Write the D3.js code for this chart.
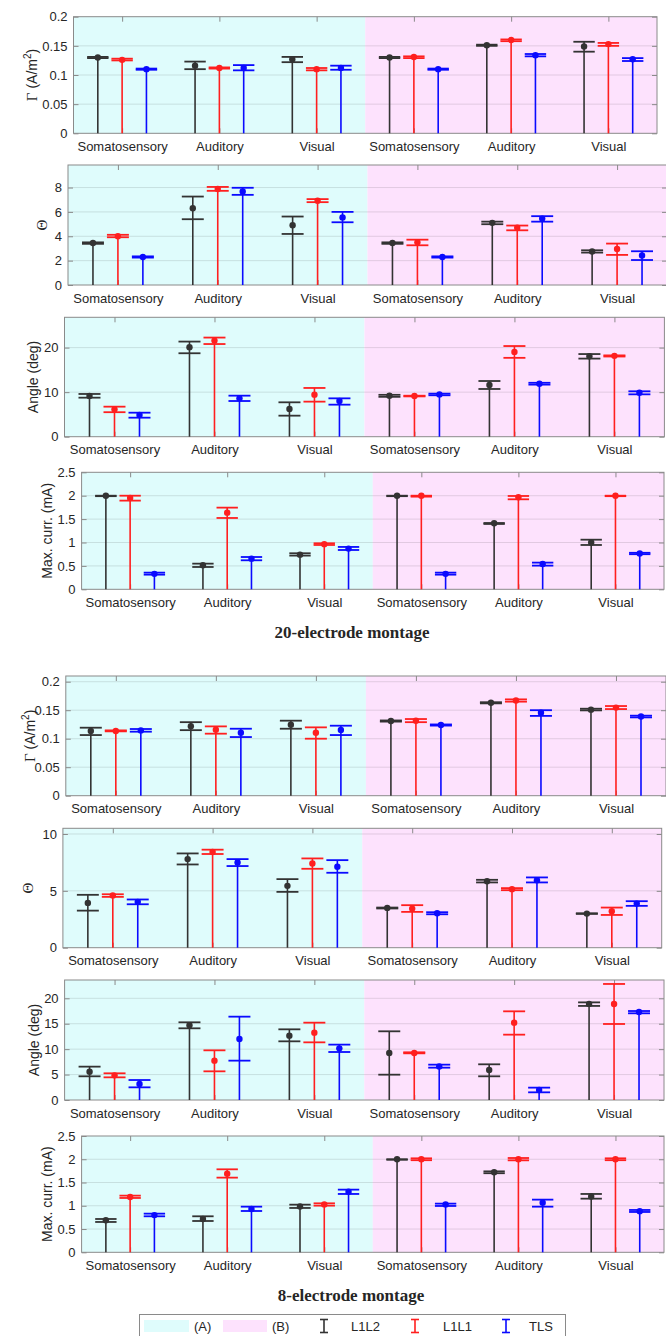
<!DOCTYPE html>
<html><head><meta charset="utf-8">
<script src="https://cdn.jsdelivr.net/npm/d3@7"></script>
<style>
html,body{margin:0;padding:0;background:#fff;}
svg{display:block;}
text{font-family:"Liberation Sans",Arial,Helvetica,sans-serif;fill:#262626;}
</style></head>
<body>
<svg id="chart" width="666" height="1336"></svg>
<script>
// ---------- DATA ----------
const categories = ["Somatosensory","Auditory","Visual","Somatosensory","Auditory","Visual"];
const seriesNames = ["L1L2","L1L1","TLS"];
const conditions = ["(A)","(B)"];
// each entry: [lower, upper, mean]
// 20-electrode montage
const gamma20_L1L2 = [[0.129,0.131,0.130],[0.110,0.123,0.116],[0.122,0.131,0.127],[0.129,0.131,0.130],[0.150,0.152,0.151],[0.140,0.157,0.149]];
const gamma20_L1L1 = [[0.125,0.128,0.126],[0.111,0.113,0.112],[0.108,0.112,0.110],[0.129,0.132,0.131],[0.158,0.161,0.160],[0.150,0.155,0.153]];
const gamma20_TLS  = [[0.109,0.111,0.110],[0.108,0.117,0.112],[0.109,0.116,0.112],[0.109,0.111,0.110],[0.132,0.136,0.134],[0.124,0.129,0.127]];
const theta20_L1L2 = [[3.38,3.50,3.45],[5.40,7.26,6.30],[4.19,5.62,4.90],[3.38,3.50,3.45],[4.99,5.20,5.10],[2.66,2.85,2.75]];
const theta20_L1L1 = [[3.92,4.12,4.00],[7.73,8.05,7.88],[6.80,7.05,6.92],[3.26,3.72,3.50],[4.49,4.88,4.70],[2.47,3.40,2.95]];
const theta20_TLS  = [[2.25,2.35,2.30],[7.40,7.98,7.67],[5.15,6.00,5.55],[2.25,2.35,2.30],[5.20,5.65,5.45],[2.05,2.77,2.42]];
const angle20_L1L2 = [[8.76,9.59,9.14],[18.73,21.35,20.07],[4.72,7.72,6.22],[8.95,9.40,9.20],[10.71,12.50,11.61],[17.53,18.55,18.05]];
const angle20_L1L1 = [[5.50,6.74,6.14],[20.80,22.25,21.57],[7.87,10.94,9.44],[9.05,9.20,9.14],[17.70,20.35,19.03],[18.00,18.25,18.15]];
const angle20_TLS  = [[4.27,5.39,4.87],[8.01,9.21,8.61],[7.19,8.61,8.01],[9.30,9.66,9.50],[11.69,12.10,11.90],[9.51,10.19,9.85]];
const curr20_L1L2  = [[1.99,2.00,2.00],[0.477,0.548,0.513],[0.72,0.77,0.74],[1.99,2.00,2.00],[1.396,1.417,1.41],[0.947,1.06,1.00]];
const curr20_L1L1  = [[1.895,2.00,1.95],[1.524,1.745,1.638],[0.947,0.983,0.965],[1.98,2.00,2.00],[1.923,1.994,1.966],[1.99,2.00,2.00]];
const curr20_TLS   = [[0.313,0.356,0.33],[0.62,0.69,0.655],[0.84,0.905,0.87],[0.313,0.356,0.33],[0.506,0.57,0.54],[0.75,0.78,0.765]];
// 8-electrode montage
const gamma8_L1L2 = [[0.1064,0.1193,0.1135],[0.115,0.129,0.122],[0.1175,0.1316,0.1246],[0.130,0.132,0.131],[0.162,0.164,0.163],[0.1497,0.1526,0.151]];
const gamma8_L1L1 = [[0.1129,0.1146,0.1135],[0.1088,0.1216,0.1158],[0.100,0.1199,0.1105],[0.129,0.1345,0.1316],[0.165,0.169,0.167],[0.152,0.1573,0.1546]];
const gamma8_TLS  = [[0.1123,0.117,0.1146],[0.1029,0.1175,0.1105],[0.1064,0.1228,0.1152],[0.123,0.125,0.124],[0.140,0.150,0.1456],[0.1374,0.1404,0.139]];
const theta8_L1L2 = [[3.26,4.65,3.94],[7.32,8.29,7.79],[4.91,6.03,5.44],[3.45,3.53,3.50],[5.74,5.97,5.85],[2.97,3.03,3.00]];
const theta8_L1L1 = [[4.47,4.70,4.60],[8.24,8.62,8.41],[6.94,7.85,7.41],[3.15,3.74,3.44],[5.06,5.24,5.15],[2.88,3.53,3.20]];
const theta8_TLS  = [[3.82,4.24,4.03],[7.18,7.79,7.50],[6.59,7.70,7.12],[2.94,3.12,3.03],[5.74,6.18,5.94],[3.68,4.09,3.88]];
const angle8_L1L2 = [[4.66,6.56,5.57],[14.10,15.28,14.69],[11.54,13.90,12.66],[4.98,13.51,9.25],[4.66,7.02,5.90],[18.50,19.20,18.90]];
const angle8_L1L1 = [[4.46,5.25,4.85],[5.64,9.77,7.74],[11.34,15.21,13.25],[9.18,9.38,9.25],[12.85,17.44,15.21],[14.95,22.82,18.89]];
const angle8_TLS  = [[2.49,3.93,3.15],[7.74,16.39,12.00],[9.44,10.89,10.16],[6.36,6.95,6.60],[1.51,2.43,1.97],[17.05,17.50,17.30]];
const curr8_L1L2  = [[0.652,0.716,0.688],[0.673,0.774,0.716],[0.953,1.024,0.985],[1.99,2.00,2.00],[1.70,1.74,1.72],[1.153,1.254,1.20]];
const curr8_L1L1  = [[1.168,1.218,1.19],[1.605,1.784,1.69],[1.003,1.053,1.03],[1.98,2.02,2.00],[1.977,2.027,2.00],[1.98,2.02,2.00]];
const curr8_TLS   = [[0.774,0.831,0.80],[0.888,0.981,0.931],[1.254,1.347,1.30],[0.996,1.046,1.03],[0.981,1.132,1.067],[0.867,0.91,0.885]];
// tick values
const ticksGamma = [0,0.05,0.1,0.15,0.2];
const ticksTheta20 = [0,2,4,6,8];
const ticksAngle20 = [0,10,20];
const ticksCurr = [0,0.5,1,1.5,2,2.5];
const ticksTheta8 = [0,5,10];
const ticksAngle8 = [0,5,10,15,20];
const titles = ["20-electrode montage","8-electrode montage"];

// ---------- STYLE / LAYOUT ----------
const colors = ["#333333","#ff1f1f","#0a0aff"];
const bgA = "#dffcfc", bgB = "#fde2fd";
const layout = [
  {l:73.5,r:657,t:16.7,b:133.3,ymax:0.2,ticks:ticksGamma,lab:"gamma",lx:32,data:[gamma20_L1L2,gamma20_L1L1,gamma20_TLS]},
  {l:68,r:667,t:165,b:285,ymax:9.85,ticks:ticksTheta20,lab:"theta",lx:42,data:[theta20_L1L2,theta20_L1L1,theta20_TLS]},
  {l:64.5,r:664.4,t:317.3,b:436.7,ymax:26.8,ticks:ticksAngle20,lab:"Angle (deg)",lx:33,data:[angle20_L1L2,angle20_L1L1,angle20_TLS]},
  {l:81.6,r:664,t:472.3,b:589.3,ymax:2.5,ticks:ticksCurr,lab:"Max. curr. (mA)",lx:46.7,data:[curr20_L1L2,curr20_L1L1,curr20_TLS]},
  {l:65.8,r:666,t:676,b:795.7,ymax:0.21,ticks:ticksGamma,lab:"gamma",lx:30,data:[gamma8_L1L2,gamma8_L1L1,gamma8_TLS]},
  {l:62.9,r:661.7,t:828.3,b:947.7,ymax:10.5,ticks:ticksTheta8,lab:"theta",lx:27.6,data:[theta8_L1L2,theta8_L1L1,theta8_TLS]},
  {l:64.6,r:664,t:980,b:1100,ymax:23.6,ticks:ticksAngle8,lab:"Angle (deg)",lx:34,data:[angle8_L1L2,angle8_L1L1,angle8_TLS]},
  {l:81.6,r:664,t:1136,b:1252.3,ymax:2.5,ticks:ticksCurr,lab:"Max. curr. (mA)",lx:46.7,data:[curr8_L1L2,curr8_L1L1,curr8_TLS]}
];
const offsets = [-0.25,0,0.25];
const capHalf = 0.11;

const svg = d3.select("#chart");

layout.forEach(p => {
  const x = d3.scaleLinear().domain([0.5,6.5]).range([p.l,p.r]);
  const y = d3.scaleLinear().domain([0,p.ymax]).range([p.b,p.t]);
  const g = svg.append("g");
  // backgrounds
  g.append("rect").attr("x",x(0.5)).attr("y",p.t).attr("width",x(3.5)-x(0.5)).attr("height",p.b-p.t).attr("fill",bgA);
  g.append("rect").attr("x",x(3.5)).attr("y",p.t).attr("width",x(6.5)-x(3.5)).attr("height",p.b-p.t).attr("fill",bgB);
  // grid
  g.selectAll(".grid").data(p.ticks.filter(v=>v>0 && v<p.ymax)).enter().append("line")
    .attr("x1",p.l).attr("x2",p.r).attr("y1",d=>y(d)).attr("y2",d=>y(d))
    .attr("stroke","#262626").attr("stroke-opacity",0.13).attr("stroke-width",1);
  // axes
  const fmt = d => String(d);
  const ax = g.append("g").attr("transform",`translate(${p.l},0)`)
    .call(d3.axisLeft(y).tickValues(p.ticks).tickFormat(fmt).tickSize(-5).tickPadding(6));
  const axR = g.append("g").attr("transform",`translate(${p.r},0)`)
    .call(d3.axisRight(y).tickValues(p.ticks).tickFormat("").tickSize(-5));
  const gx = d3.range(1,7);
  const axB = g.append("g").attr("transform",`translate(0,${p.b})`)
    .call(d3.axisBottom(x).tickValues(gx).tickFormat((d,i)=>categories[i]).tickSize(-5).tickPadding(8));
  const axT = g.append("g").attr("transform",`translate(0,${p.t})`)
    .call(d3.axisTop(x).tickValues(gx).tickFormat("").tickSize(-5));
  [ax,axR,axB,axT].forEach(a=>{
    a.select(".domain").remove();
    a.selectAll(".tick line").attr("stroke","#8a8a8a");
    a.selectAll("text").style("font-size","13px").attr("fill","#262626");
  });
  axB.selectAll("text").attr("dy","0.75em");
  // border
  g.append("rect").attr("x",p.l).attr("y",p.t).attr("width",p.r-p.l).attr("height",p.b-p.t)
    .attr("fill","none").attr("stroke","#8a8a8a").attr("stroke-width",1);
  // error bars
  p.data.forEach((arr,si) => {
    const col = colors[si];
    const sg = g.append("g");
    arr.forEach((d,gi) => {
      const cx = x(gi+1+offsets[si]);
      sg.append("line").attr("x1",cx).attr("x2",cx).attr("y1",y(0)).attr("y2",y(d[1]))
        .attr("stroke",col).attr("stroke-width",1.6);
      [d[0],d[1]].forEach(v=>{
        sg.append("line").attr("x1",x(gi+1+offsets[si]-capHalf)).attr("x2",x(gi+1+offsets[si]+capHalf))
          .attr("y1",y(v)).attr("y2",y(v)).attr("stroke",col).attr("stroke-width",1.8);
      });
      sg.append("circle").attr("cx",cx).attr("cy",y(d[2])).attr("r",3.2).attr("fill",col);
    });
  });
  // y label
  const cy = (p.t+p.b)/2;
  const yl = g.append("text").attr("transform",`translate(${p.lx},${cy}) rotate(-90)`)
    .attr("text-anchor","middle").attr("dominant-baseline","central").style("font-size","14px");
  if (p.lab==="gamma") {
    yl.append("tspan").text("Γ").style("font-family","'Liberation Serif','Times New Roman',serif").style("font-size","15px");
    yl.append("tspan").text(" (A/m");
    yl.append("tspan").text("2").attr("dy","-5").style("font-size","10px");
    yl.append("tspan").text(")").attr("dy","5");
  } else if (p.lab==="theta") {
    yl.append("tspan").text("Θ").style("font-family","'Liberation Serif','Times New Roman',serif").style("font-size","15px");
  } else {
    yl.text(p.lab);
  }
});

// montage titles
[[titles[0],352,638],[titles[1],351,1301]].forEach(t=>{
  svg.append("text").attr("x",t[1]).attr("y",t[2]).attr("text-anchor","middle")
    .style("font-family","'Liberation Serif','Times New Roman',serif").style("font-weight","bold")
    .style("font-size","17px").attr("fill","#000").text(t[0]);
});

// legend
const lg = svg.append("g");
lg.append("rect").attr("x",139.5).attr("y",1314.5).attr("width",426).attr("height",24)
  .attr("fill","#fff").attr("stroke","#8a8a8a").attr("stroke-width",1);
const ly = 1326;
lg.append("rect").attr("x",144).attr("y",ly-6).attr("width",45).attr("height",12).attr("fill",bgA);
lg.append("text").attr("x",194).attr("y",ly).attr("dominant-baseline","central").style("font-size","13px").text(conditions[0]);
lg.append("rect").attr("x",223).attr("y",ly-6).attr("width",44).attr("height",12).attr("fill",bgB);
lg.append("text").attr("x",272).attr("y",ly).attr("dominant-baseline","central").style("font-size","13px").text(conditions[1]);
[324,415,506].forEach((lx,i)=>{
  const c = colors[i];
  lg.append("line").attr("x1",lx).attr("x2",lx).attr("y1",ly-6.5).attr("y2",ly+6.5).attr("stroke",c).attr("stroke-width",1.6);
  lg.append("line").attr("x1",lx-4).attr("x2",lx+4).attr("y1",ly-6.5).attr("y2",ly-6.5).attr("stroke",c).attr("stroke-width",1.6);
  lg.append("line").attr("x1",lx-4).attr("x2",lx+4).attr("y1",ly+6.5).attr("y2",ly+6.5).attr("stroke",c).attr("stroke-width",1.6);
  lg.append("text").attr("x",[351,443,529][i]).attr("y",ly).attr("dominant-baseline","central").style("font-size","13px").text(seriesNames[i]);
});
</script>
</body></html>
